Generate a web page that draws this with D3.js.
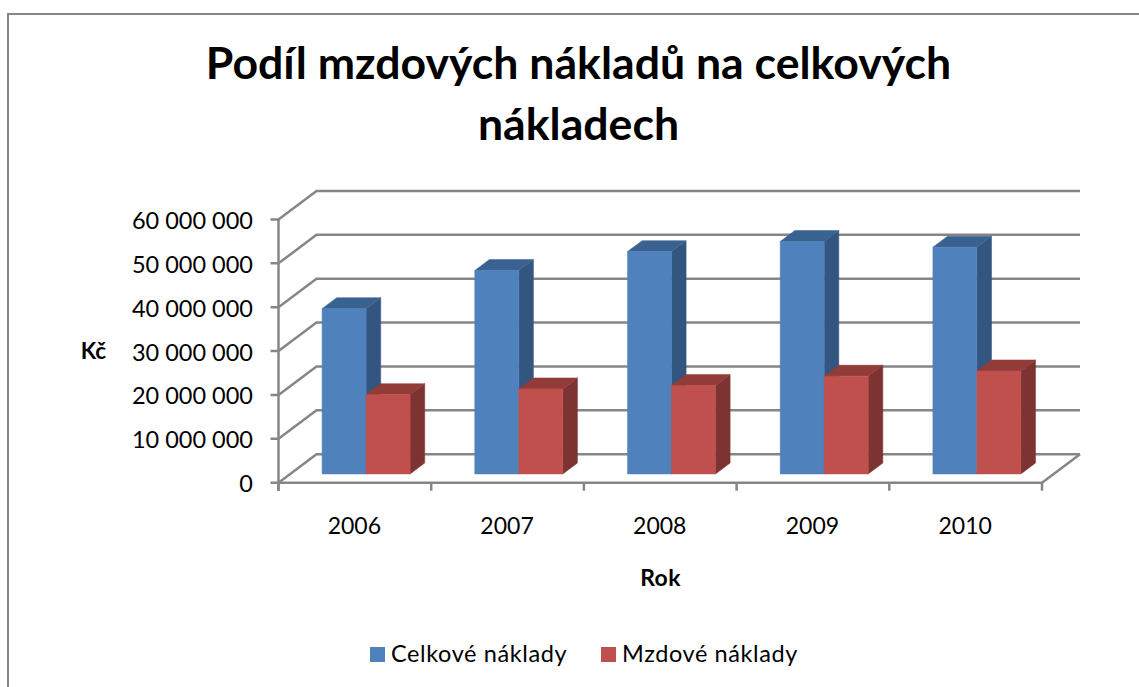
<!DOCTYPE html>
<html><head><meta charset="utf-8">
<script src="https://cdnjs.cloudflare.com/ajax/libs/d3/7.8.5/d3.min.js"></script>
<style>html,body{margin:0;padding:0;background:#fff}svg{display:block}text{font-family:Lato,"Open Sans",sans-serif;fill:#000}</style>
</head><body><svg id="c" width="1139" height="687"></svg>
<script>
const categories=["2006","2007","2008","2009","2010"];
const seriesNames=["Celkové náklady","Mzdové náklady"];
const celkove=[37700000,46400000,50700000,53000000,51700000];
const mzdove=[18100000,19400000,20200000,22300000,23500000];
const yTicks=[0,10000000,20000000,30000000,40000000,50000000,60000000];
const titleLines=["Podíl mzdových nákladů na celkových","nákladech"];
const colors=[{front:"#4f81bd",top:"#3a6291",side:"#335680"},{front:"#c0504d",top:"#923c3a",side:"#7c3331"}];
const svg=d3.select("#c");
const G="#868686";
svg.append("path").attr("d","M8,687V14H1139").attr("fill","none").attr("stroke",G).attr("stroke-width",2);
const y=d3.scaleLinear().domain([0,60000000]).range([482.7,219.5]);
const x0=d3.scaleBand().domain(categories).range([278.5,1042]);
const x1=d3.scaleBand().domain(seriesNames).range([32.0,120.0]);
const depthX=d3.scaleLinear().domain([0,1]).range([0,38]);
const depthY=d3.scaleLinear().domain([0,1]).range([0,-28.5]);
const zF=0.305,zB=0.69;
const P=(px,py,z)=>[px+depthX(z),py+depthY(z)];
const line=d3.line();
const L=x0.range()[0],R=x0.range()[1];
// walls
const grid=svg.append("g").attr("fill","none").attr("stroke",G).attr("stroke-width",2.5);
yTicks.forEach(t=>{
  grid.append("path").attr("d",line([[L-8,y(t)],P(L,y(t),0),P(L,y(t),1),P(R,y(t),1)]));
});
grid.append("path").attr("d",line([[L,y(60000000)],[L,y(0)+8]]));
grid.append("path").attr("d",line([[L,y(0)],[R,y(0)],P(R,y(0),1)]));
[...categories.map(c=>x0(c)),R].forEach(v=>grid.append("path").attr("d",line([[v,y(0)],[v,y(0)+8]])));
// bars
function bar(g,px,w,v,c){
  const b=y(0),t=y(v);
  const poly=(pts,f)=>g.append("path").attr("d",line(pts)+"Z").attr("fill",f).attr("stroke",f).attr("stroke-width",.5);
  poly([P(px+w,b,zF),P(px+w,b,zB),P(px+w,t,zB),P(px+w,t,zF)],c.side);
  poly([P(px,t,zF),P(px+w,t,zF),P(px+w,t,zB),P(px,t,zB)],c.top);
  poly([P(px,b,zF),P(px+w,b,zF),P(px+w,t,zF),P(px,t,zF)],c.front);
}
const bars=svg.append("g");
categories.forEach((c,i)=>{
  const gx=x0(c);
  bar(bars,gx+x1(seriesNames[0]),x1.bandwidth(),celkove[i],colors[0]);
  bar(bars,gx+x1(seriesNames[1]),x1.bandwidth(),mzdove[i],colors[1]);
});
// labels
const fmt=v=>d3.format(",")(v).replace(/,/g," ");
svg.append("g").selectAll("text").data(yTicks).join("text").attr("x",253).attr("y",d=>y(d)+9.5).attr("text-anchor","end").attr("font-size",23.5).text(fmt);
svg.append("g").selectAll("text").data(categories).join("text").attr("x",d=>x0(d)+x0.bandwidth()/2-0.5).attr("y",534).attr("text-anchor","middle").attr("font-size",23).text(d=>d);
svg.append("text").attr("x",93.5).attr("y",359.3).attr("text-anchor","middle").attr("font-size",22.5).attr("font-weight",700).text("Kč");
svg.append("text").attr("x",660.5).attr("y",585.5).attr("text-anchor","middle").attr("font-size",23).attr("font-weight",700).attr("letter-spacing",0.4).text("Rok");
svg.append("g").selectAll("text").data(titleLines).join("text").attr("x",578.5).attr("y",(d,i)=>79+i*61).attr("text-anchor","middle").attr("font-size",44.6).attr("font-weight",700).text(d=>d);
// legend
const lx=[370,601];
seriesNames.forEach((s,i)=>{
  svg.append("rect").attr("x",lx[i]).attr("y",647).attr("width",15).attr("height",15).attr("fill",colors[i].front);
  svg.append("text").attr("x",lx[i]+21).attr("y",662).attr("font-size",23.5).attr("letter-spacing",0.6).text(s);
});
</script></body></html>
